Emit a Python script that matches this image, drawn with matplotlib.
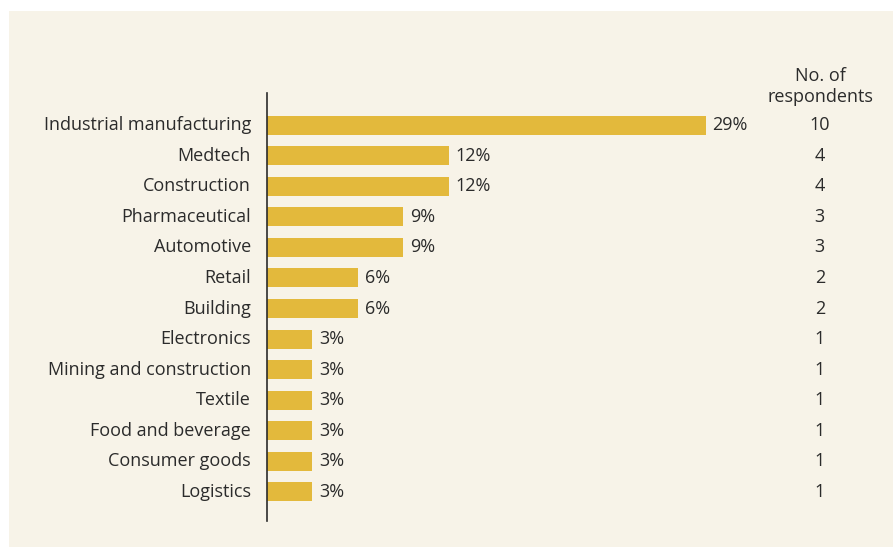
import matplotlib
matplotlib.use("Agg")
import matplotlib.pyplot as plt
from matplotlib.patches import Rectangle

plt.rcParams["font.family"] = ["Open Sans", "DejaVu Sans"]

industries = ["Industrial manufacturing", "Medtech", "Construction", "Pharmaceutical",
              "Automotive", "Retail", "Building", "Electronics", "Mining and construction",
              "Textile", "Food and beverage", "Consumer goods", "Logistics"]
shares = [29, 12, 12, 9, 9, 6, 6, 3, 3, 3, 3, 3, 3]
respondents = [10, 4, 4, 3, 3, 2, 2, 1, 1, 1, 1, 1, 1]

bg = "#f7f3e8"
bar_color = "#e3b93c"
ink = "#2b2b2b"
fs = 13

W, H = 893, 547
fig = plt.figure(figsize=(W / 100, H / 100), dpi=100, facecolor="white")
# cream panel behind everything
fig.patches.append(Rectangle((9 / W, 0), 1 - 9 / W, 1 - 11 / H, transform=fig.transFigure,
                             facecolor=bg, edgecolor="none", zorder=-10))

x0, x1 = 267, 872
y_top, y_bot = 93, 521
ax = fig.add_axes([x0 / W, (H - y_bot) / H, (x1 - x0) / W, (y_bot - y_top) / H])
ax.set_facecolor("none")
ax.set_zorder(5)

pos = list(range(len(industries)))
ax.barh(pos, shares, height=0.62, color=bar_color, zorder=2)
ax.set_xlim(0, 40)
ax.set_ylim(12.95, -1.05)

for y, name, s, n in zip(pos, industries, shares, respondents):
    ax.text(-1.05, y, name, ha="right", va="center", fontsize=fs, color=ink)
    ax.text(s + 0.45, y, f"{s}%", ha="left", va="center", fontsize=fs, color=ink)
    ax.text(36.55, y, str(n), ha="center", va="center", fontsize=fs, color=ink)

ax.text(36.6, -0.63, "No. of\nrespondents", ha="center", va="bottom", fontsize=fs,
        color=ink, linespacing=1.2)

for side in ["top", "right", "bottom"]:
    ax.spines[side].set_visible(False)
ax.spines["left"].set_color(ink)
ax.spines["left"].set_linewidth(1.2)
ax.set_xticks([])
ax.set_yticks([])

fig.savefig("out.png", dpi=100, facecolor=fig.get_facecolor())
